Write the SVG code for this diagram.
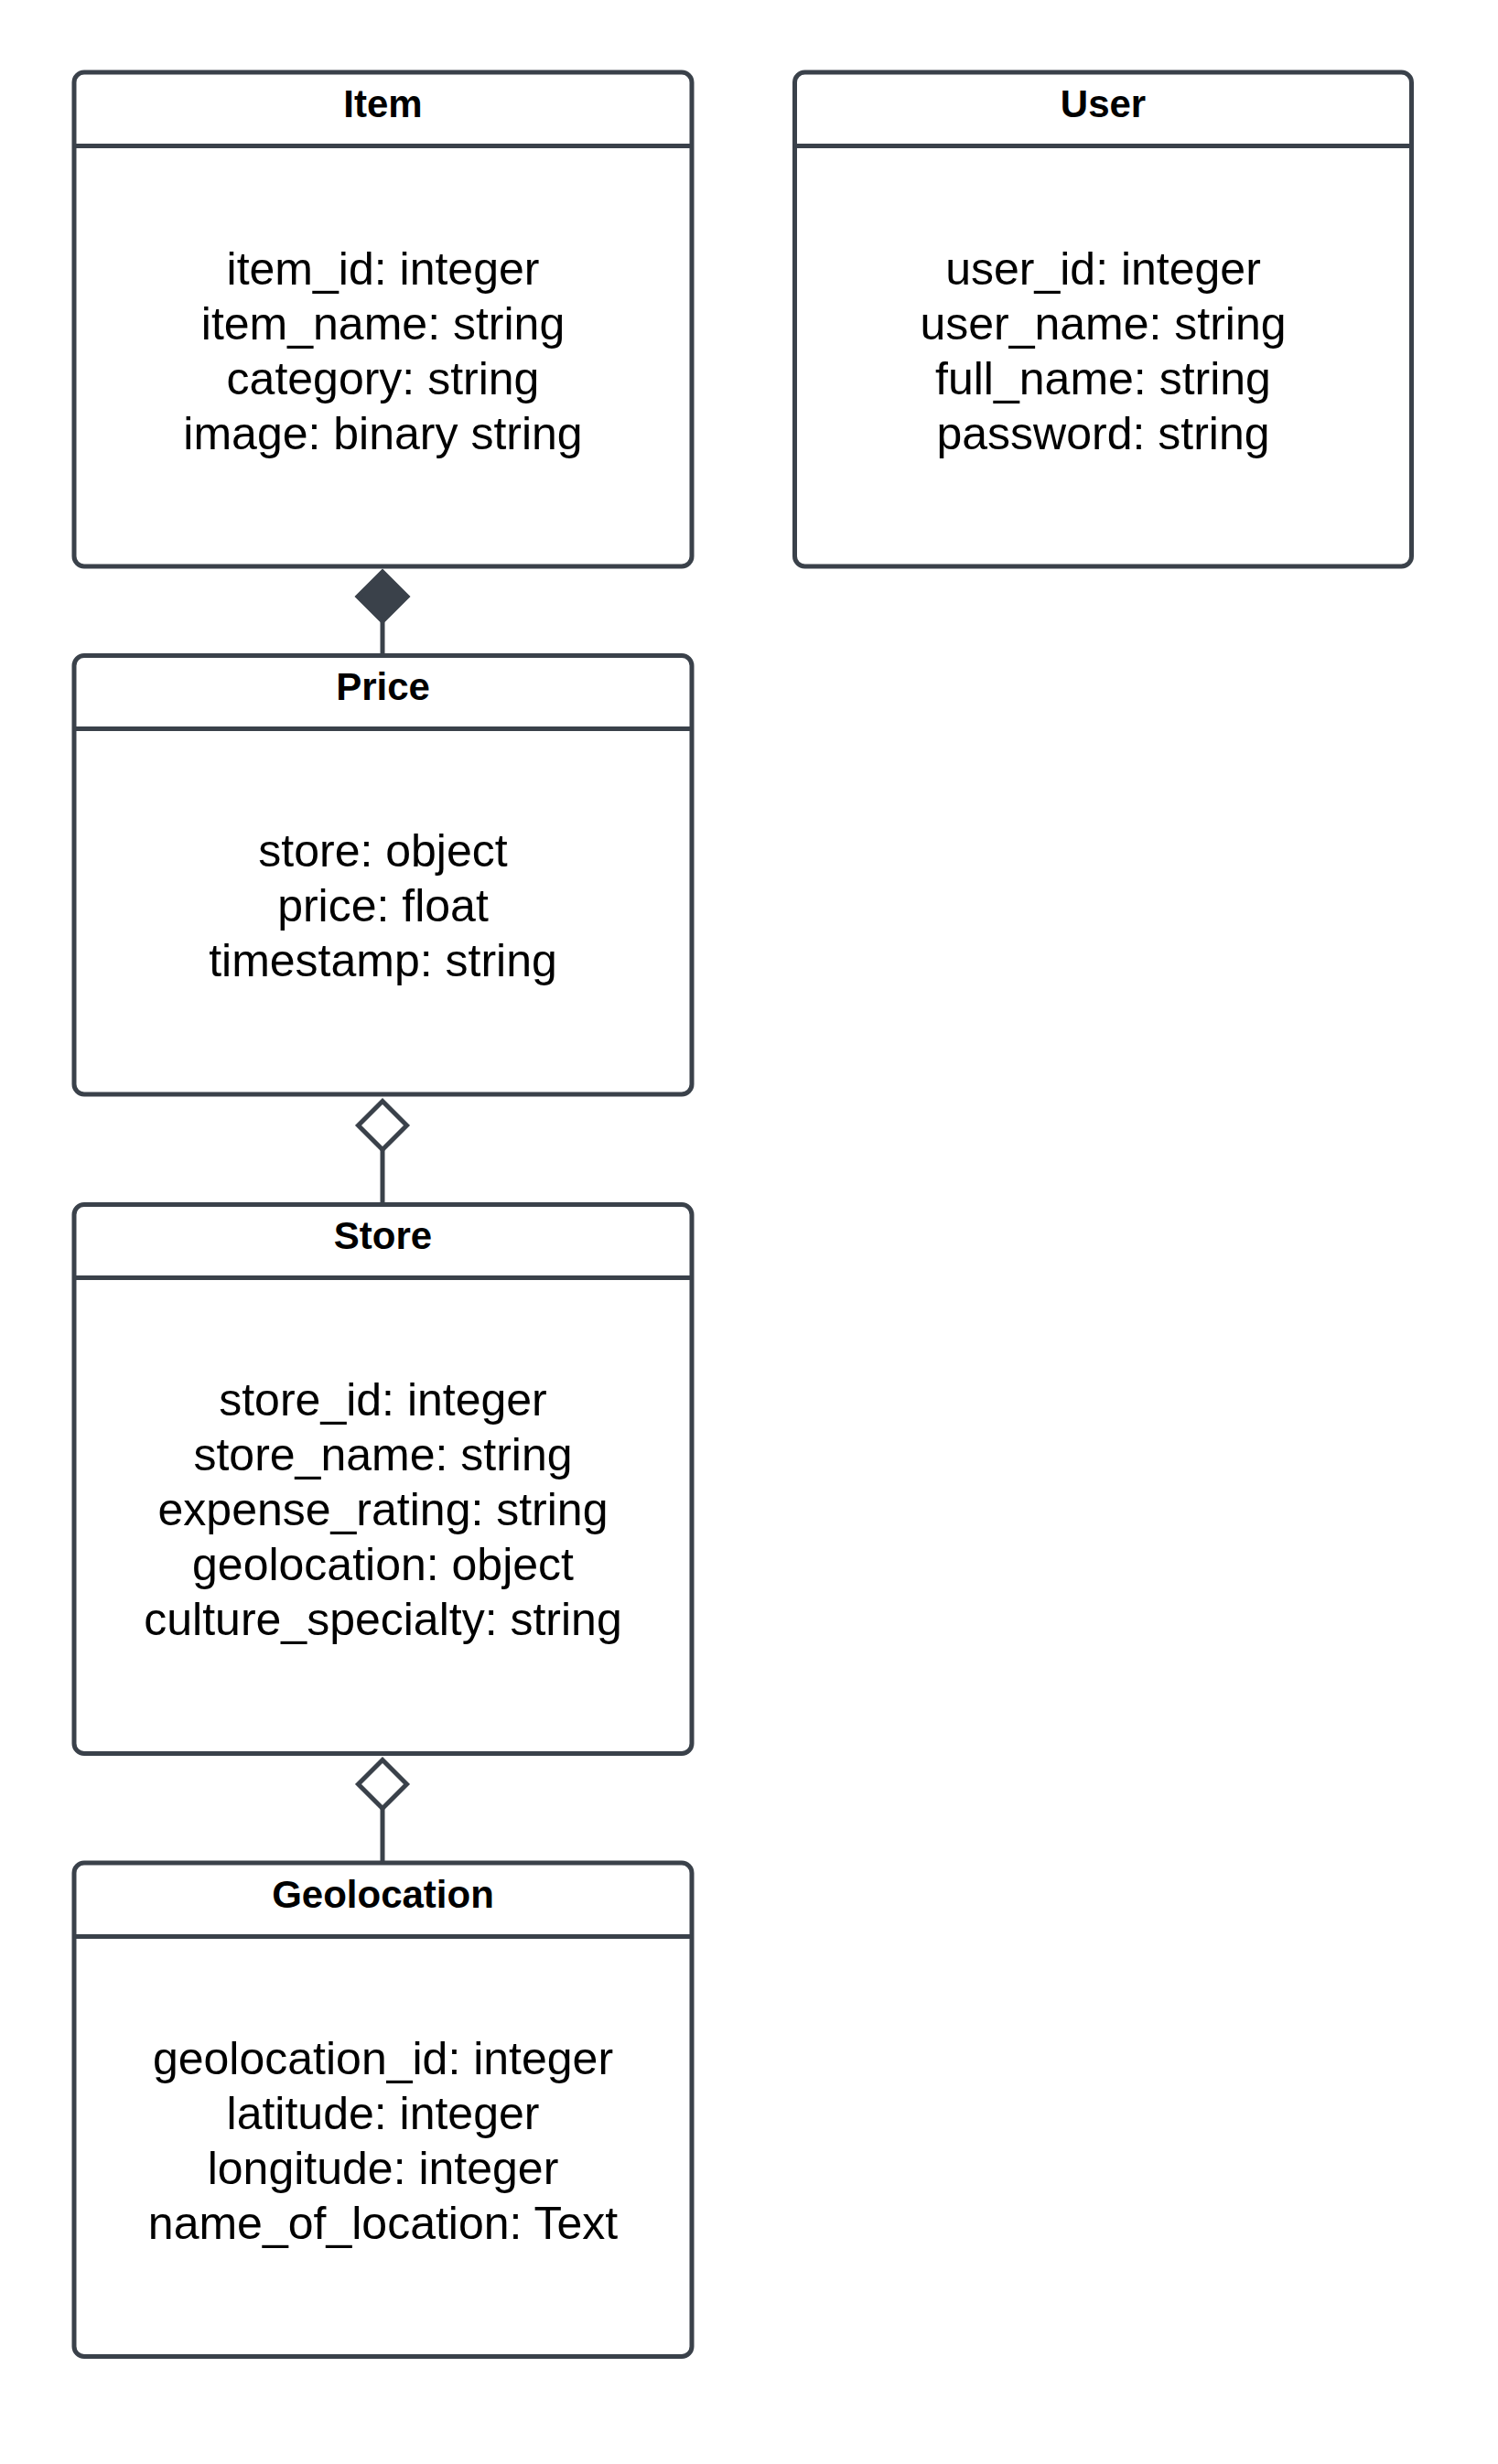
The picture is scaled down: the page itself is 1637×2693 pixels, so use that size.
<svg xmlns="http://www.w3.org/2000/svg" width="1637" height="2693" viewBox="0 0 1637 2693">
<style>
.box{fill:#ffffff;stroke:#3a414a;stroke-width:5}
.div{stroke:#3a414a;stroke-width:5}
.title{font-family:"Liberation Sans",Arial,sans-serif;font-weight:bold;font-size:42px;fill:#000;text-anchor:middle}
.body{font-family:"Liberation Sans",Arial,sans-serif;font-size:50px;fill:#000;text-anchor:middle}
.conn{stroke:#3a414a;stroke-width:5;fill:none}
.dfill{fill:#3a414a;stroke:#3a414a;stroke-width:5;stroke-linejoin:miter}
.dhollow{fill:#ffffff;stroke:#3a414a;stroke-width:5;stroke-linejoin:miter}
</style>
<rect width="1637" height="2693" fill="#ffffff"/>
<g id="connectors">
  <line class="conn" x1="418" y1="680" x2="418" y2="716"/>
  <polygon class="dfill" points="418,625 445,652 418,679 391,652"/>
  <line class="conn" x1="418" y1="1257" x2="418" y2="1316"/>
  <polygon class="dhollow" points="418,1203.5 444.5,1230 418,1256.5 391.5,1230"/>
  <line class="conn" x1="418" y1="1977" x2="418" y2="2036"/>
  <polygon class="dhollow" points="418,1923.5 444.5,1950 418,1976.5 391.5,1950"/>
</g>
<g id="item">
  <rect class="box" x="81" y="79" width="675" height="540" rx="11"/>
  <line class="div" x1="81" y1="159.5" x2="756" y2="159.5"/>
  <text class="title" x="418.5" y="128">Item</text>
  <text class="body" x="418.5" y="311">item_id: integer</text>
  <text class="body" x="418.5" y="371">item_name: string</text>
  <text class="body" x="418.5" y="431">category: string</text>
  <text class="body" x="418.5" y="491">image: binary string</text>
</g>
<g id="user">
  <rect class="box" x="868.5" y="79" width="674" height="540" rx="11"/>
  <line class="div" x1="868.5" y1="159.5" x2="1542.5" y2="159.5"/>
  <text class="title" x="1205.5" y="128">User</text>
  <text class="body" x="1205.5" y="311">user_id: integer</text>
  <text class="body" x="1205.5" y="371">user_name: string</text>
  <text class="body" x="1205.5" y="431">full_name: string</text>
  <text class="body" x="1205.5" y="491">password: string</text>
</g>
<g id="price">
  <rect class="box" x="81" y="716.5" width="675" height="479.5" rx="11"/>
  <line class="div" x1="81" y1="796.5" x2="756" y2="796.5"/>
  <text class="title" x="418.5" y="765">Price</text>
  <text class="body" x="418.5" y="946.5">store: object</text>
  <text class="body" x="418.5" y="1006.5">price: float</text>
  <text class="body" x="418.5" y="1066.5">timestamp: string</text>
</g>
<g id="store">
  <rect class="box" x="81" y="1316.5" width="675" height="600" rx="11"/>
  <line class="div" x1="81" y1="1396.5" x2="756" y2="1396.5"/>
  <text class="title" x="418.5" y="1365">Store</text>
  <text class="body" x="418.5" y="1546.5">store_id: integer</text>
  <text class="body" x="418.5" y="1606.5">store_name: string</text>
  <text class="body" x="418.5" y="1666.5">expense_rating: string</text>
  <text class="body" x="418.5" y="1726.5">geolocation: object</text>
  <text class="body" x="418.5" y="1786.5">culture_specialty: string</text>
</g>
<g id="geolocation">
  <rect class="box" x="81" y="2036" width="675" height="539.5" rx="11"/>
  <line class="div" x1="81" y1="2116.5" x2="756" y2="2116.5"/>
  <text class="title" x="418.5" y="2085">Geolocation</text>
  <text class="body" x="418.5" y="2266.5">geolocation_id: integer</text>
  <text class="body" x="418.5" y="2326.5">latitude: integer</text>
  <text class="body" x="418.5" y="2386.5">longitude: integer</text>
  <text class="body" x="418.5" y="2446.5">name_of_location: Text</text>
</g>
</svg>
